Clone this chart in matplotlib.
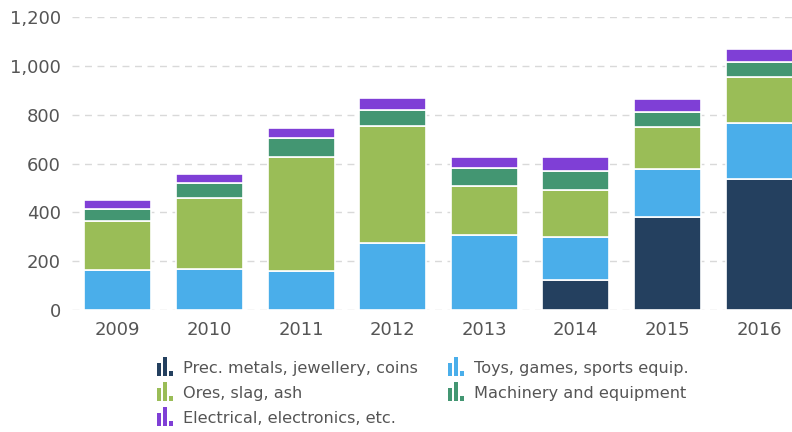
import numpy as np
import matplotlib.pyplot as plt
from matplotlib.patches import Rectangle
from matplotlib.legend_handler import HandlerBase

years = ['2009', '2010', '2011', '2012', '2013', '2014', '2015', '2016']
prec_metals = [0, 0, 0, 0, 0, 125, 382, 537]
toys = [165, 170, 160, 276, 309, 173, 195, 230]
ores = [200, 290, 467, 479, 199, 196, 174, 188]
machinery = [50, 61, 78, 66, 73, 76, 59, 60]
electrical = [34, 38, 43, 48, 45, 56, 56, 56]

series = [
    ('Prec. metals, jewellery, coins', prec_metals, '#24405f'),
    ('Toys, games, sports equip.', toys, '#4aaeea'),
    ('Ores, slag, ash', ores, '#9abd57'),
    ('Machinery and equipment', machinery, '#439672'),
    ('Electrical, electronics, etc.', electrical, '#7f3fd6'),
]


class BarIconHandler(HandlerBase):
    # small three-bar icon like the original legend symbol
    def create_artists(self, legend, orig_handle, xdescent, ydescent,
                       width, height, fontsize, trans):
        color = orig_handle.get_facecolor()
        bw = 3.0
        gap = 1.3
        hs = [9.5, 13.5, 3.5]
        base = -ydescent - 2
        arts = []
        for i, h in enumerate(hs):
            r = Rectangle((-xdescent + i * (bw + gap), base), bw, h,
                          facecolor=color, edgecolor='none', transform=trans)
            arts.append(r)
        return arts


fig = plt.figure(figsize=(7.92, 4.32), dpi=100)
ax = fig.add_axes([72 / 792, 122 / 432, 733 / 792, 292.7 / 432])

x = np.arange(len(years))
bottom = np.zeros(len(years))
handles = {}
for name, vals, color in series:
    vals = np.array(vals, dtype=float)
    b = ax.bar(x, vals, 0.73, bottom=bottom, color=color, edgecolor='white',
               linewidth=1.2, label=name, zorder=3)
    handles[name] = b.patches[0]
    bottom += vals

ax.set_xlim(-0.5, len(years) - 0.5)
ax.set_ylim(0, 1200)
ax.set_yticks(range(0, 1201, 200))
ax.set_yticklabels([f'{v:,}' for v in range(0, 1201, 200)])
ax.set_xticks(x)
ax.set_xticklabels(years)
ax.tick_params(axis='both', length=0, labelsize=13, labelcolor='#555555')
ax.tick_params(axis='x', pad=8)
ax.tick_params(axis='y', pad=8)
for s in ax.spines.values():
    s.set_visible(False)
ax.yaxis.grid(True, color='#d9d9d9', linestyle=(0, (5, 4)), linewidth=1, zorder=0)
ax.set_axisbelow(True)

order = ['Prec. metals, jewellery, coins', 'Ores, slag, ash', 'Electrical, electronics, etc.',
         'Toys, games, sports equip.', 'Machinery and equipment']
leg = fig.legend([handles[n] for n in order], order, ncol=2, loc='upper left',
                 bbox_to_anchor=(157 / 792, 1 - 361 / 432), frameon=False,
                 fontsize=11.6, handler_map={Rectangle: BarIconHandler()},
                 handlelength=1.1, handletextpad=0.5, columnspacing=1.9,
                 labelspacing=0.62, borderpad=0, borderaxespad=0)
for t in leg.get_texts():
    t.set_color('#555555')

fig.savefig('out.png', dpi=100)
